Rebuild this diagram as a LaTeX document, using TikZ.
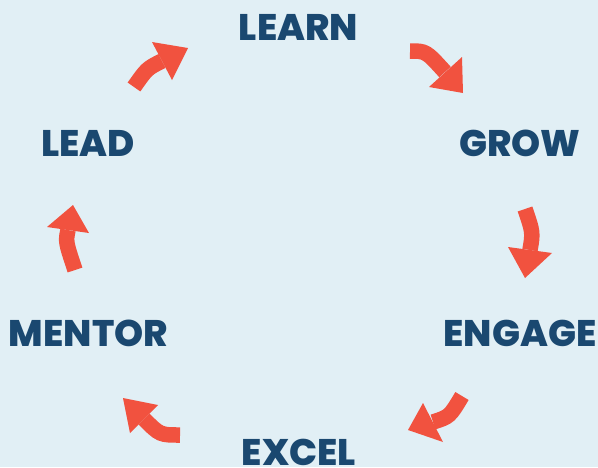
\documentclass[tikz,border=0pt]{standalone}
\usepackage{fontspec}
\setmainfont{Poppins}[BoldFont={* ExtraBold}]
\definecolor{bgc}{RGB}{225,239,245}
\definecolor{txt}{RGB}{26,72,112}
\definecolor{arr}{RGB}{241,82,63}
\begin{document}
\begin{tikzpicture}[x=1pt,y=-1pt,
  lbl/.style={font=\fontsize{37}{37}\selectfont\bfseries, text=txt, inner sep=0pt, anchor=center},
  body/.style={draw=arr, line width=15.5pt, line cap=butt},
  head/.style={fill=arr, draw=none}]
\fill[bgc] (0,0) rectangle (598,467);
\useasboundingbox (0,0) rectangle (598,467);
% labels
\node[lbl] (learn) at (298.5,27) {LEARN};
\node[lbl] (grow) at (520,143) {GROW};
\node[lbl] (lead) at (88,143) {LEAD};
\node[lbl] (mentor) at (88.5,333.5) {MENTOR};
\node[lbl] (engage) at (520,333.5) {ENGAGE};
\node[lbl] (excel) at (299,452) {EXCEL};
% arrow 1: lead -> learn
\coordinate (a1t) at (134,87);
\coordinate (a1b) at (162,61);
\draw[body] (a1t) .. controls (147,68.5) .. (a1b);
\fill[head] (152,42) -- (188,48) -- (172,80) -- cycle;
% arrow 2: learn -> grow
\coordinate (a2t) at (410,51);
\coordinate (a2b) at (445,72);
\draw[body] (a2t) .. controls (426,51) .. (a2b);
\fill[head] (462,57) -- (463,93) -- (429,87) -- cycle;
% arrow 3: grow -> engage
\coordinate (a3t) at (525,209);
\coordinate (a3b) at (530,250);
\draw[body] (a3t) .. controls (533,232.5) .. (a3b);
\fill[head] (508,247) -- (552,253) -- (525,278) -- cycle;
% arrow 4: engage -> excel
\coordinate (a4t) at (462,396);
\coordinate (a4b) at (433,422);
\draw[body] (a4t) .. controls (449.6,416.7) .. (a4b);
\fill[head] (423,403) -- (443,442) -- (408,430) -- cycle;
% arrow 5: excel -> mentor
\coordinate (a5t) at (180,435);
\coordinate (a5b) at (144,419);
\draw[body] (a5t) .. controls (160,435) .. (a5b);
\fill[head] (158,405) -- (130,433) -- (123,398) -- cycle;
% arrow 6: mentor -> lead
\coordinate (a6t) at (75,270);
\coordinate (a6b) at (68,230);
\draw[body] (a6t) .. controls (65.6,241.7) .. (a6b);
\fill[head] (47,227) -- (89,233) -- (73,205) -- cycle;
\end{tikzpicture}
\end{document}
